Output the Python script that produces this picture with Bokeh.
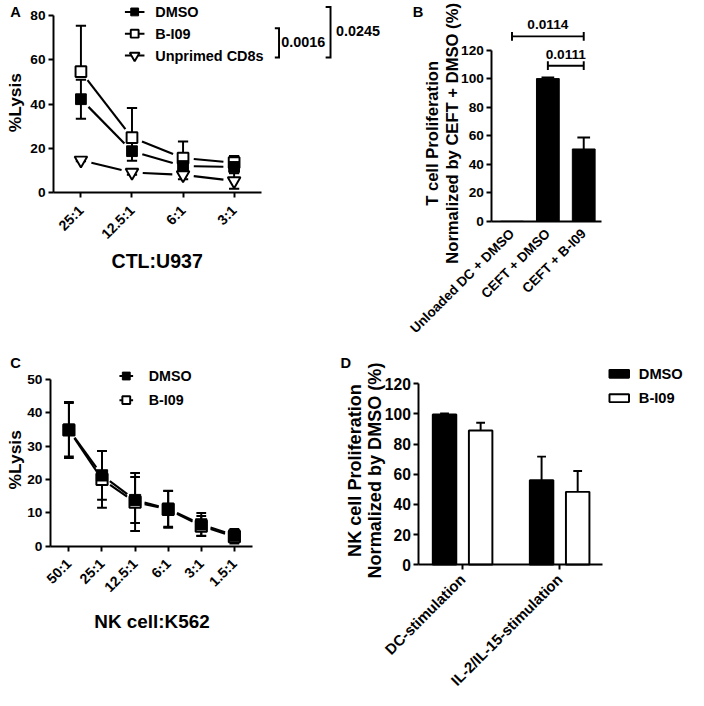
import math
from bokeh.plotting import figure
from bokeh.models import Range1d, FixedTicker, Whisker, TeeHead, ColumnDataSource, Label
from bokeh.layouts import column, row
from bokeh.embed import file_html
from bokeh.resources import INLINE

# ---------------- data ----------------
# Panel A : CTL lysis of U937
a_ratios = ["25:1", "12.5:1", "6:1", "3:1"]
a_dmso = [42.2, 18.8, 12.1, 11.7]
a_dmso_err = [8.8, 4.3, 2.5, 2.0]
a_bi09 = [54.6, 24.9, 15.7, 13.6]
a_bi09_err = [20.7, 13.3, 7.5, 3.0]
a_unprimed = [14.7, 9.2, 8.1, 5.4]
a_unprimed_err = [0.5, 1.0, 1.9, 3.5]
a_series = ["DMSO", "B-I09", "Unprimed CD8s"]
a_pvals = ["0.0016", "0.0245"]

# Panel B : T cell proliferation
b_groups = ["Unloaded DC + DMSO", "CEFT + DMSO", "CEFT + B-I09"]
b_values = [0.0, 100.0, 50.7]
b_err = [0.0, 0.8, 8.0]
b_pairs = [(0, 2), (1, 2)]
b_pvals = ["0.0114", "0.0111"]

# Panel C : NK lysis of K562
c_ratios = ["50:1", "25:1", "12.5:1", "6:1", "3:1", "1.5:1"]
c_dmso = [34.9, 21.2, 13.8, 11.2, 6.5, 3.2]
c_dmso_err = [8.0, 7.3, 6.9, 5.4, 3.4, 1.9]
c_bi09 = [34.8, 20.0, 13.2, 11.0, 6.0, 2.8]
c_bi09_err = [8.4, 8.5, 8.7, 5.5, 3.0, 2.0]
c_series = ["DMSO", "B-I09"]

# Panel D : NK proliferation
d_groups = ["DC-stimulation", "IL-2/IL-15-stimulation"]
d_dmso = [99.7, 56.0]
d_dmso_err = [0.6, 15.7]
d_bi09 = [89.0, 48.3]
d_bi09_err = [5.2, 13.8]
d_series = ["DMSO", "B-I09"]

# ---------------- layout helpers ----------------
S = 688 / 704
FONT = "Liberation Sans"
LW = 2 * S


def fsz(v):
    return f"{v * S:.2f}px"


class Panel:
    """One panel; the frame fills the whole figure, axes are drawn at fixed locations."""

    def __init__(self, fx, fy, fw, fh, ax_x, ax_y, x0, xu, yu, xb_end,
                 ymax, yticks, xlabels, xfont, yfont, xtick_out=5, xstand=5):
        w = round(fw * S)
        h = round(fh * S)
        self.x0, self.xu, self.yu, self.y0 = x0, xu, yu, ax_y
        p = figure(width=w, height=h,
                   x_range=Range1d(self.dx(fx), self.dx(fx + w / S)),
                   y_range=Range1d(self.dy(fy + h / S), self.dy(fy)),
                   output_backend="svg", toolbar_location=None, min_border=0)
        p.outline_line_color = None
        p.grid.visible = False
        p.background_fill_color = "white"
        p.border_fill_color = "white"
        for ax in (p.xaxis[0], p.yaxis[0]):
            ax.axis_line_width = LW
            ax.axis_line_color = "black"
            ax.major_tick_line_width = LW
            ax.major_tick_line_color = "black"
            ax.major_tick_in = 0
            ax.minor_tick_in = 0
            ax.minor_tick_out = 0
            ax.major_label_text_font = FONT
            ax.major_label_text_font_style = "bold"
            ax.major_label_text_color = "black"
        ya = p.yaxis[0]
        ya.fixed_location = self.dx(ax_x)
        ya.ticker = FixedTicker(ticks=yticks)
        ya.bounds = (0, ymax)
        ya.major_tick_out = round(5 * S)
        ya.major_label_standoff = 3
        ya.major_label_text_font_size = fsz(yfont)
        xa = p.xaxis[0]
        xa.fixed_location = 0
        xa.ticker = FixedTicker(ticks=list(range(len(xlabels))))
        xa.major_label_overrides = {i: t for i, t in enumerate(xlabels)}
        xa.major_label_orientation = math.pi / 4
        xa.bounds = (self.dx(ax_x), self.dx(xb_end))
        xa.major_tick_out = round(xtick_out * S)
        xa.major_label_standoff = round(xstand * S)
        xa.major_label_text_font_size = fsz(xfont)
        self.p = p

    def dx(self, X):
        return (X - self.x0) / self.xu

    def dy(self, Y):
        return (self.y0 - Y) / self.yu

    def label(self, X, Y, text, size, align="left", angle=0.0):
        self.p.add_layout(Label(x=self.dx(X), y=self.dy(Y), text=text, text_font=FONT,
                                text_font_style="bold", text_font_size=fsz(size),
                                text_color="black", text_align=align,
                                text_baseline="middle", angle=angle))

    def whiskers(self, xs, vals, errs, cap, lower=True):
        keep = [i for i, e in enumerate(errs) if e > 0]
        src = ColumnDataSource(dict(
            x=[xs[i] for i in keep],
            upper=[vals[i] + errs[i] for i in keep],
            lower=[(vals[i] - errs[i]) if lower else vals[i] for i in keep]))
        head = lambda: TeeHead(size=cap * S, line_width=LW, line_color="black")
        self.p.add_layout(Whisker(source=src, base="x", upper="upper", lower="lower",
                                  line_width=LW, line_color="black",
                                  upper_head=head(), lower_head=head() if lower else None))

    def gapped_line(self, xs, ys, gap=11):
        x0s, y0s, x1s, y1s = [], [], [], []
        for i in range(len(xs) - 1):
            ddx = (xs[i + 1] - xs[i]) * self.xu
            ddy = (ys[i + 1] - ys[i]) * self.yu
            t = gap / math.hypot(ddx, ddy)
            x0s.append(xs[i] + t * (xs[i + 1] - xs[i]))
            y0s.append(ys[i] + t * (ys[i + 1] - ys[i]))
            x1s.append(xs[i + 1] - t * (xs[i + 1] - xs[i]))
            y1s.append(ys[i + 1] - t * (ys[i + 1] - ys[i]))
        self.p.segment(x0=x0s, y0=y0s, x1=x1s, y1=y1s, line_width=LW * 1.1, line_color="black")


MARK = {
    "DMSO": dict(marker="square", fill_color="black", line_color="black", line_width=1),
    "B-I09": dict(marker="square", fill_color="white", line_color="black", line_width=LW),
    "Unprimed CD8s": dict(marker="inverted_triangle", fill_color="white", line_color="black", line_width=LW),
}
MSIZE = {"DMSO": 11, "B-I09": 11, "Unprimed CD8s": 13}


def line_legend(P, names, rows_y, lx0, lx1, tx, font):
    for name, Y in zip(names, rows_y):
        y = P.dy(Y)
        P.p.segment(x0=[P.dx(lx0)], y0=[y], x1=[P.dx(lx1)], y1=[y], line_width=LW, line_color="black")
        P.p.scatter(x=[P.dx((lx0 + lx1) / 2)], y=[y], size=(MSIZE[name] - 3) * S, **MARK[name])
        P.label(tx, Y, name, font)


# ---------------- Panel A ----------------
PA = Panel(0, 0, 400, 350, 54.3, 196.9, 82.3, 52.25, 2.2725, 266.7,
           80, [0, 20, 40, 60, 80], a_ratios, 14.5, 14, xstand=10)
xa = list(range(len(a_ratios)))
a_data = [("DMSO", a_dmso, a_dmso_err, True), ("B-I09", a_bi09, a_bi09_err, False),
          ("Unprimed CD8s", a_unprimed, a_unprimed_err, True)]
for name, vals, errs, low in a_data:
    PA.gapped_line(xa, vals)
for name, vals, errs, low in a_data:
    PA.whiskers(xa, vals, errs, 10.5, lower=low)
for k in (1, 0, 2):  # open squares first, filled squares over them, triangles last
    name, vals, errs, low = a_data[k]
    PA.p.scatter(x=xa, y=vals, size=MSIZE[name] * S, **MARK[name])
line_legend(PA, a_series, [11.7, 34.0, 56.3], 127.3, 147.3, 158.3, 14.8)
PA.p.multi_line(xs=[[PA.dx(280.7), PA.dx(285), PA.dx(285), PA.dx(280.7)],
                    [PA.dx(332.7), PA.dx(337.7), PA.dx(337.7), PA.dx(332.7)]],
                ys=[[PA.dy(28.3), PA.dy(28.3), PA.dy(58.3), PA.dy(58.3)],
                    [PA.dy(6.7), PA.dy(6.7), PA.dy(58.3), PA.dy(58.3)]],
                line_width=LW, line_color="black", line_join="miter")
PA.label(287.3, 42.7, a_pvals[0], 14.7)
PA.label(343.3, 31.7, a_pvals[1], 14.7)
PA.label(15.3, 104.5, "%Lysis", 17.8, align="center", angle=math.pi / 2)
PA.label(160.3, 267, "CTL:U937", 20, align="center")
PA.label(10, 11.5, "A", 15)

# ---------------- Panel B ----------------
PB = Panel(400, 0, 304, 350, 502.7, 226, 523.3, 36.7, 1.4608, 615,
           120, [0, 20, 40, 60, 80, 100, 120], b_groups, 13.8, 14, xtick_out=0, xstand=10)
xb = list(range(len(b_groups)))
PB.p.vbar(x=xb, top=b_values, width=0.635, fill_color="black", line_color="black")
PB.whiskers(xb, b_values, b_err, 13, lower=False)
for (i, j), pv, Y in zip(b_pairs, b_pvals, [36.7, 66.7]):
    y = PB.dy(Y)
    hh = 4.5 / PB.yu
    PB.p.segment(x0=[i, i, j], y0=[y, y - hh, y - hh], x1=[j, i, j], y1=[y, y + hh, y + hh],
                 line_width=LW, line_color="black")
    PB.p.add_layout(Label(x=(i + j) / 2, y=PB.dy(Y - 11.7), text=pv, text_font=FONT,
                          text_font_style="bold", text_font_size=fsz(14), text_color="black",
                          text_align="center", text_baseline="middle"))
PB.label(442.3, 136, "T cell Proliferation", 17, align="center", angle=math.pi / 2)
PB.label(462.5, 136, "Normalized by CEFT + DMSO (%)", 17, align="center", angle=math.pi / 2)
PB.label(421.7, 11.3, "B", 15)

# ---------------- Panel C ----------------
PC = Panel(0, 350, 345, 356, 51, 558.3, 70, 33.86, 3.412, 258.3,
           50, [0, 10, 20, 30, 40, 50], c_ratios, 14.5, 14, xstand=10)
xc = list(range(len(c_ratios)))
c_data = [("DMSO", c_dmso, c_dmso_err), ("B-I09", c_bi09, c_bi09_err)]
for name, vals, errs in c_data:
    PC.gapped_line(xc, vals, gap=10)
for name, vals, errs in c_data:
    PC.whiskers(xc, vals, errs, 10)
for name, vals, errs in reversed(c_data):  # filled squares drawn over open ones
    PC.p.scatter(x=xc, y=vals, size=11.5 * S, **MARK[name])
line_legend(PC, c_series, [384.3, 409.0], 121.7, 135.7, 151.7, 14.6)
PC.label(15.3, 470, "%Lysis", 17.8, align="center", angle=math.pi / 2)
PC.label(155, 635, "NK cell:K562", 19.3, align="center")
PC.label(10, 370.5, "C", 15)

# ---------------- Panel D ----------------
PD = Panel(345, 350, 359, 356, 428.3, 577.3, 473, 99.3, 1.5417, 616,
           120, [0, 20, 40, 60, 80, 100, 120], d_groups, 15.3, 16, xstand=7)
xd = list(range(len(d_groups)))
off, bw = 0.186, 0.242
xd_dmso = [x - off for x in xd]
xd_bi09 = [x + off for x in xd]
PD.p.vbar(x=xd_dmso, top=d_dmso, width=bw, fill_color="black", line_color="black", line_width=LW)
PD.p.vbar(x=xd_bi09, top=d_bi09, width=bw, fill_color="white", line_color="black", line_width=LW)
PD.whiskers(xd_dmso, d_dmso, d_dmso_err, 9, lower=False)
PD.whiskers(xd_bi09, d_bi09, d_bi09_err, 9, lower=False)
for name, Y, fill in zip(d_series, [382.0, 407.0], ["black", "white"]):
    PD.p.rect(x=[PD.dx(633.3)], y=[PD.dy(Y)], width=20 * S, height=8 * S,
              width_units="screen", height_units="screen",
              fill_color=fill, line_color="black", line_width=LW)
    PD.label(653.3, Y, name, 15)
PD.label(363, 481, "NK cell Proliferation", 18.5, align="center", angle=math.pi / 2)
PD.label(383.7, 481, "Normalized by DMSO (%)", 18.5, align="center", angle=math.pi / 2)
PD.label(348, 370.5, "D", 15)

layout = column(row(PA.p, PB.p), row(PC.p, PD.p))
open("out.html", "w").write(file_html(layout, INLINE))
